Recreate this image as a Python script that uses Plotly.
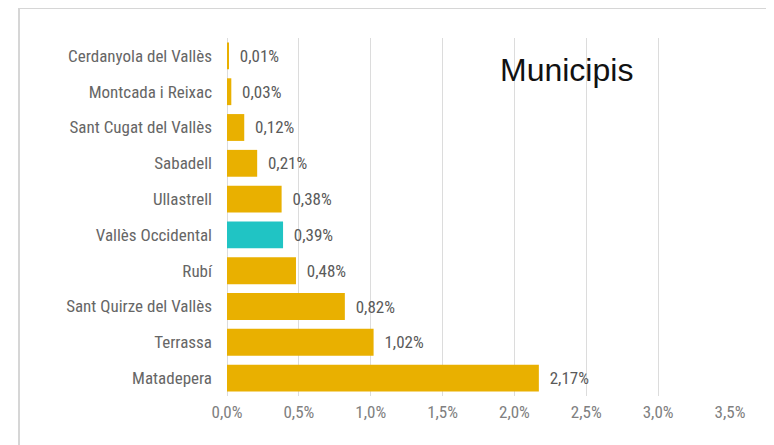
import plotly.graph_objects as go

categories = ["Cerdanyola del Vallès", "Montcada i Reixac", "Sant Cugat del Vallès",
              "Sabadell", "Ullastrell", "Vallès Occidental", "Rubí",
              "Sant Quirze del Vallès", "Terrassa", "Matadepera"]
values = [0.01, 0.03, 0.12, 0.21, 0.38, 0.39, 0.48, 0.82, 1.02, 2.17]
highlight = "Vallès Occidental"
tick_vals = [0, 0.5, 1.0, 1.5, 2.0, 2.5, 3.0, 3.5]
tick_text = ["0,0%", "0,5%", "1,0%", "1,5%", "2,0%", "2,5%", "3,0%", "3,5%"]
title_text = "Municipis"

GOLD = "#E9B000"
TEAL = "#20C4C4"
colors = [TEAL if c == highlight else GOLD for c in categories]

NARROW = "Liberation Sans Narrow, Arial Narrow, Roboto Condensed, Arial, sans-serif"

fig = go.Figure(go.Bar(
    x=values, y=categories, orientation="h",
    marker=dict(color=colors, line=dict(width=0)),
    text=values, texttemplate="\u00a0\u00a0%{x:.2f}%", textposition="outside",
    textfont=dict(family=NARROW, size=17, color="#5a5a5a"),
    cliponaxis=False, width=0.75,
))

# page body has an 8px offset; compensate so screen pixels match
OFF = 8
W, H = 774, 445
L, T = 227 - OFF, 38 - OFF
pw, ph = 503, 358
R, B = W - L - pw, H - T - ph

def px_x(p):
    return (p - OFF - L) / pw

def px_y(p):
    return 1 - (p - OFF - T) / ph

fig.update_layout(
    width=W, height=H,
    margin=dict(l=L, r=R, t=T, b=B, autoexpand=False),
    paper_bgcolor="white", plot_bgcolor="white",
    separators=",.",
    showlegend=False,
    xaxis=dict(range=[0, 3.5], tickvals=tick_vals, ticktext=tick_text, automargin=False,
               showgrid=True, gridcolor="#dcdcdc", gridwidth=1,
               zeroline=True, zerolinecolor="#dcdcdc", zerolinewidth=1,
               showline=False, ticks="", ticklabelstandoff=4,
               tickfont=dict(family=NARROW, size=17, color="#808080")),
    yaxis=dict(autorange="reversed", showgrid=False, zeroline=False, showline=False,
               automargin=False, ticks="", ticklabelstandoff=14,
               tickfont=dict(family=NARROW, size=17, color="#666666")),
    shapes=[
        dict(type="rect", xref="paper", yref="paper",
             x0=px_x(19), x1=px_x(800), y0=px_y(470), y1=px_y(8),
             line=dict(color="#d6d6d6", width=2), fillcolor="rgba(0,0,0,0)", layer="below"),
        dict(type="rect", xref="paper", yref="paper",
             x0=px_x(450), x1=px_x(740), y0=px_y(98), y1=px_y(40),
             line=dict(width=0), fillcolor="white", layer="between"),
    ],
    annotations=[dict(text=title_text, xref="paper", yref="paper",
                      x=px_x(566), y=px_y(70), xanchor="center", yanchor="middle",
                      showarrow=False,
                      font=dict(family="Liberation Sans, Arial, sans-serif", size=32, color="#111111"))],
)

fig.write_html("out.html")
